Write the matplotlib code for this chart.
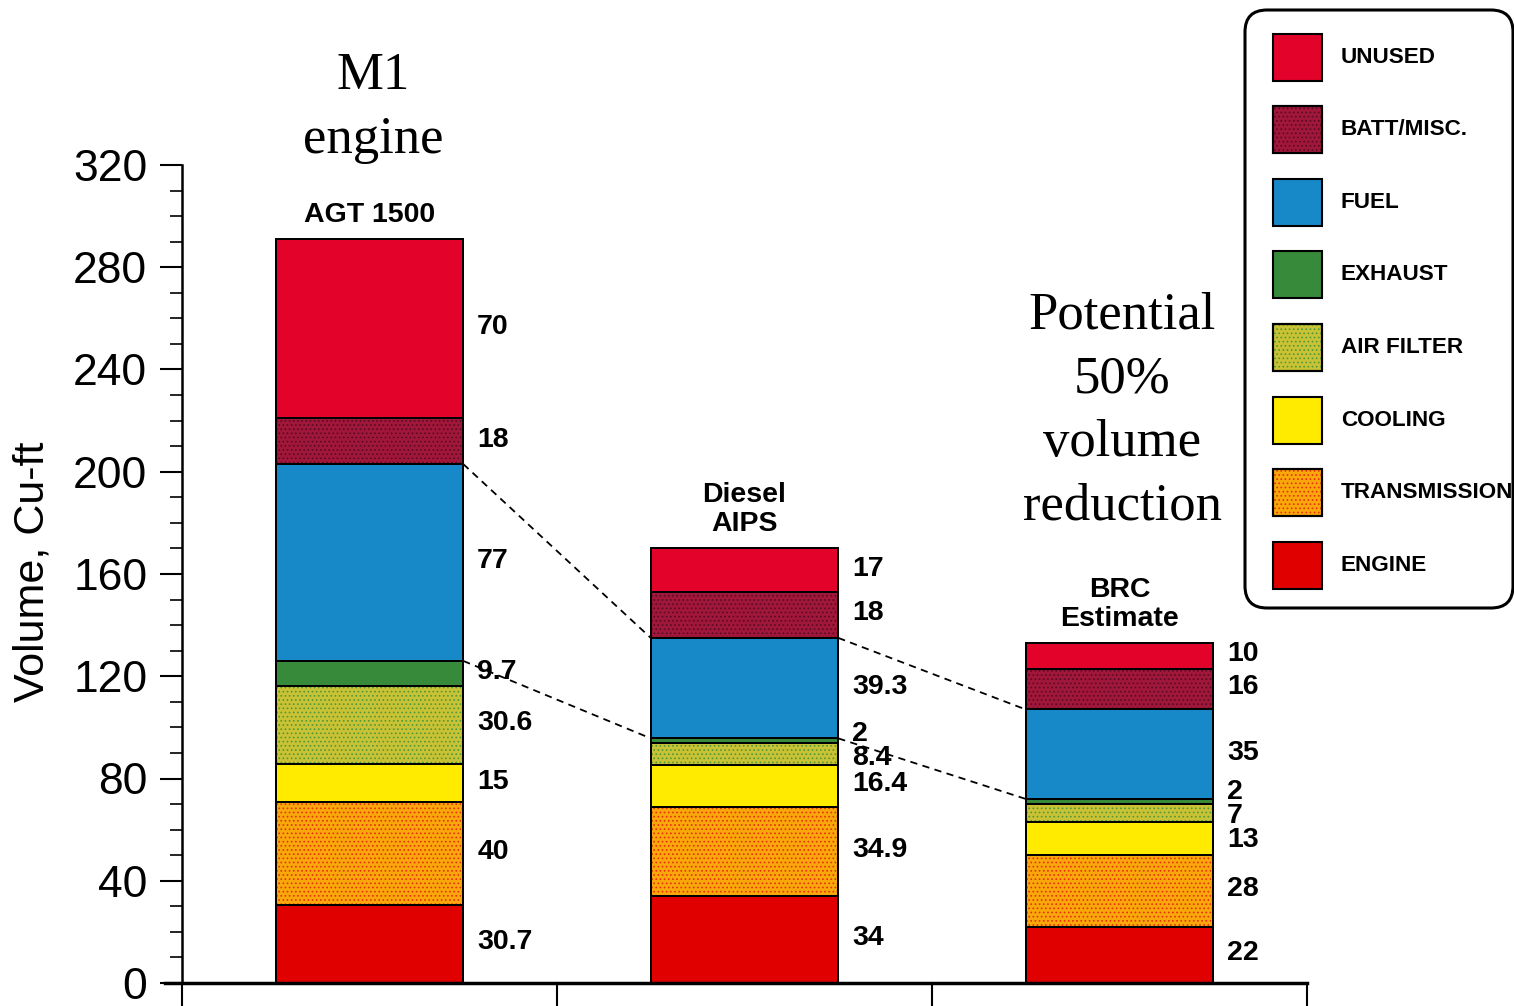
import matplotlib.pyplot as plt
import numpy as np
from matplotlib.patches import FancyBboxPatch, Rectangle

# Data (bottom to top of each stack)
categories = ["ENGINE", "TRANSMISSION", "COOLING", "AIR FILTER",
              "EXHAUST", "FUEL", "BATT/MISC.", "UNUSED"]
agt1500 = [30.7, 40, 15, 30.6, 9.7, 77, 18, 70]
diesel_aips = [34, 34.9, 16.4, 8.4, 2, 39.3, 18, 17]
brc_estimate = [22, 28, 13, 7, 2, 35, 16, 10]
bar_titles = ["AGT 1500", "Diesel\nAIPS", "BRC\nEstimate"]

colors = ["#e10000", "#f9a80c", "#ffeb00", "#c9c235",
          "#368a3a", "#1788c8", "#a0173a", "#e2022a"]
hatch_colors = [None, "#e8300a", None, "#4e9a3a", None, None, "#5a0a25", None]

SANS = ["Liberation Sans", "DejaVu Sans"]
SERIF = ["Liberation Serif", "DejaVu Serif"]
plt.rcParams["font.family"] = SANS
plt.rcParams["hatch.linewidth"] = 0.7

W, H = 1514, 1006
fig = plt.figure(figsize=(W / 100, H / 100), dpi=100)
ax = fig.add_axes([182 / W, 23 / H, 1125 / W, 818 / H])

stacks = [agt1500, diesel_aips, brc_estimate]
width = 0.5


def spread(mids, gap):
    # push value labels apart so thin segments stay readable
    pos = list(mids)
    for _ in range(60):
        for i in range(len(pos) - 1):
            d = pos[i + 1] - pos[i]
            if d < gap:
                s = (gap - d) / 2
                pos[i] -= s
                pos[i + 1] += s
    return pos


for i, vals in enumerate(stacks):
    bottoms = np.concatenate([[0], np.cumsum(vals)[:-1]])
    for v, b, c, hc in zip(vals, bottoms, colors, hatch_colors):
        ax.bar(i, v, width, bottom=b, color=c, edgecolor="black", linewidth=1.3, zorder=2)
        if hc:
            ax.bar(i, v, width, bottom=b, color="none", edgecolor=hc,
                   hatch="....", linewidth=0, zorder=3)
        ax.bar(i, v, width, bottom=b, color="none", edgecolor="black", linewidth=1.3, zorder=4)
    mids = spread(bottoms + np.array(vals) / 2, 9.5)
    for v, y in zip(vals, mids):
        ax.text(i + width / 2 + 0.037, y + 0.6, f"{v:g}", ha="left", va="center",
                fontsize=20.5, fontweight="bold", clip_on=False)
    ax.text(i, sum(vals) + 4.5, bar_titles[i], ha="center", va="bottom",
            fontsize=20.5, fontweight="bold", linespacing=1.15, clip_on=False)

# dashed lines joining the fuel segment between bars
fuel_idx = categories.index("FUEL")
fuel_top = [np.cumsum(v)[fuel_idx] for v in stacks]
fuel_bot = [np.cumsum(v)[fuel_idx - 1] for v in stacks]
for i in range(len(stacks) - 1):
    for ys in (fuel_top, fuel_bot):
        ax.plot([i + width / 2, i + 1 - width / 2], [ys[i], ys[i + 1]],
                ls=(0, (4, 3)), color="black", lw=1.3, zorder=5)

ax.set_xlim(-0.5, 2.5)
ax.set_ylim(0, 320)
ax.set_yticks(np.arange(0, 321, 40))
ax.set_yticks(np.arange(0, 321, 10), minor=True)
ax.tick_params(axis="y", which="major", length=16, width=1.5, labelsize=32, pad=9)
ax.tick_params(axis="y", which="minor", length=9, width=1.2)
ax.set_xticks([])
for s in ["top", "right", "bottom"]:
    ax.spines[s].set_visible(False)
ax.spines["left"].set_linewidth(1.8)
ax.patch.set_alpha(0)

# base line and table dividers below
ax.plot([-0.545, 2.5], [0, 0], color="black", lw=2.5, clip_on=False, zorder=6)
for xv in [-0.5, 0.5, 1.5, 2.5]:
    ax.plot([xv, xv], [0, -12], color="black", lw=1.5, clip_on=False, zorder=6)

fig.text(33 / W, 1 - 572 / H, "Volume, Cu-ft", rotation=90, ha="center",
         va="center", fontsize=31)

# overlay in pixel coordinates for legend and notes
ov = fig.add_axes([0, 0, 1, 1])
ov.set_xlim(0, W)
ov.set_ylim(H, 0)
ov.axis("off")
ov.patch.set_alpha(0)

ov.add_patch(FancyBboxPatch((1245, 10), 268, 598,
                            boxstyle="round,pad=0,rounding_size=22",
                            fc="white", ec="black", lw=2.2))
for k, ci in enumerate(range(len(categories) - 1, -1, -1)):
    cy = 57 + k * 72.6
    ov.add_patch(Rectangle((1273, cy - 23.5), 49, 47, fc=colors[ci],
                           ec="black", lw=1.5))
    if hatch_colors[ci]:
        ov.add_patch(Rectangle((1273, cy - 23.5), 49, 47, fc="none",
                               ec=hatch_colors[ci], hatch="....", lw=0))
        ov.add_patch(Rectangle((1273, cy - 23.5), 49, 47, fc="none",
                               ec="black", lw=1.5))
    ov.text(1341, cy, categories[ci], ha="left", va="center",
            fontsize=16.2, fontweight="bold")

ov.text(373, 108, "M1\nengine", ha="center", va="center", fontsize=38,
        family=SERIF, linespacing=1.42)
ov.text(1122, 411, "Potential\n50%\nvolume\nreduction", ha="center",
        va="center", fontsize=38, family=SERIF, linespacing=1.42)

fig.savefig("out.png", dpi=100, facecolor="white")
